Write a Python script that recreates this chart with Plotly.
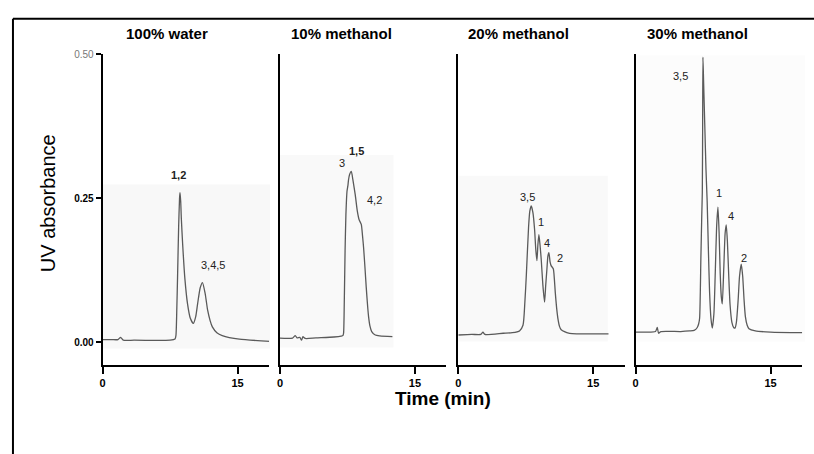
import plotly.graph_objects as go

# ---- Chromatogram data: retention time (min) vs UV absorbance (AU) ----
time_water = [0, 1.0, 1.7, 2.0, 2.3, 3.5, 6.0, 7.5, 8.05, 8.15, 8.25, 8.33, 8.45, 8.55, 8.6,
              8.68, 8.75, 8.9, 9.15, 9.44, 9.75, 10.08, 10.35, 10.56, 10.85, 11.1, 11.4,
              11.67, 11.95, 12.2, 12.7, 13.3, 15.2, 18.7]
abs_water = [0.005, 0.005, 0.005, 0.009, 0.004, 0.004, 0.0035, 0.004, 0.006, 0.012, 0.06, 0.113,
             0.20, 0.25, 0.26, 0.245, 0.215, 0.170, 0.11, 0.067, 0.042, 0.033, 0.045, 0.067,
             0.095, 0.104, 0.085, 0.0565, 0.038, 0.027, 0.017, 0.012, 0.0057, 0.002]

time_meoh10 = [0, 1.4, 1.7, 1.9, 2.2, 2.4, 2.55, 2.8, 4.0, 6.0, 6.8, 7.0, 7.07, 7.15, 7.24,
               7.33, 7.45, 7.56, 7.62, 7.75, 7.93, 8.1, 8.37, 8.6, 8.8, 9.04, 9.18, 9.3, 9.45,
               9.59, 9.72, 9.85, 10.0, 10.2, 10.6, 11.1, 12.5]
abs_meoh10 = [0.0074, 0.0076, 0.012, 0.008, 0.009, 0.004, 0.010, 0.007, 0.008, 0.0095, 0.011,
              0.012, 0.016, 0.07, 0.16, 0.221, 0.262, 0.273, 0.282, 0.292, 0.297, 0.283, 0.256,
              0.228, 0.213, 0.205, 0.185, 0.164, 0.13, 0.096, 0.068, 0.045, 0.029, 0.019,
              0.013, 0.0115, 0.010]

time_meoh20 = [0, 1.5, 2.5, 2.74, 2.95, 5.0, 6.0, 6.8, 7.19, 7.4, 7.56, 7.81, 7.95, 8.11, 8.3,
               8.48, 8.62, 8.74, 8.85, 8.96, 9.08, 9.22, 9.4, 9.59, 9.72, 9.85, 9.96, 10.07,
               10.2, 10.33, 10.56, 10.68, 10.78, 10.93, 11.07, 11.25, 11.44, 12.37, 16.7]
abs_meoh20 = [0.013, 0.014, 0.014, 0.018, 0.014, 0.016, 0.017, 0.020, 0.030, 0.07, 0.116, 0.20,
              0.228, 0.237, 0.225, 0.196, 0.16, 0.142, 0.17, 0.187, 0.17, 0.144, 0.10, 0.070,
              0.10, 0.127, 0.15, 0.156, 0.14, 0.133, 0.128, 0.11, 0.087, 0.06, 0.042, 0.028,
              0.022, 0.016, 0.015]

time_meoh30 = [0, 1.0, 2.2, 2.4, 2.55, 2.8, 5.0, 6.0, 6.5, 6.85, 7.0, 7.11, 7.25, 7.35, 7.41,
               7.45, 7.48, 7.55, 7.68, 7.82, 7.95, 8.08, 8.22, 8.37, 8.52, 8.7, 8.85, 9.0,
               9.15, 9.28, 9.4, 9.52, 9.63, 9.8, 9.95, 10.07, 10.2, 10.35, 10.5, 10.7, 10.9,
               11.04, 11.2, 11.4, 11.55, 11.74, 11.9, 12.05, 12.2, 12.4, 12.6, 13.3, 15.0, 18.9]
abs_meoh30 = [0.018, 0.018, 0.019, 0.026, 0.016, 0.019, 0.019, 0.020, 0.021, 0.026, 0.032,
              0.042, 0.145, 0.22, 0.26, 0.38, 0.495, 0.455, 0.38, 0.30, 0.245, 0.165, 0.087,
              0.042, 0.025, 0.05, 0.12, 0.20, 0.235, 0.19, 0.12, 0.08, 0.067, 0.13, 0.19,
              0.204, 0.175, 0.115, 0.065, 0.035, 0.026, 0.025, 0.035, 0.075, 0.115, 0.136,
              0.115, 0.075, 0.045, 0.030, 0.024, 0.020, 0.018, 0.017]

panel_titles = ["100% water", "10% methanol", "20% methanol", "30% methanol"]

# Peak identification labels: retention time, absorbance, compound numbers
peak_t_water = [8.44, 12.3]
peak_a_water = [0.29, 0.135]
peak_txt_water = ["<b>1,2</b>", "3,4,5"]

peak_t_meoh10 = [8.48, 6.89, 10.52]
peak_a_meoh10 = [0.333, 0.311, 0.248]
peak_txt_meoh10 = ["<b>1,5</b>", "3", "4,2"]

peak_t_meoh20 = [7.67, 9.15, 9.89, 11.26]
peak_a_meoh20 = [0.252, 0.209, 0.173, 0.146]
peak_txt_meoh20 = ["3,5", "1", "4", "2"]

peak_t_meoh30 = [5.0, 9.3, 10.56, 12.0]
peak_a_meoh30 = [0.462, 0.26, 0.22, 0.146]
peak_txt_meoh30 = ["3,5", "1", "4", "2"]

y_tick_vals = [0.0, 0.25, 0.5]
y_tick_text = ["<b>0.00</b>", "<b>0.25</b>", "<span style='color:#777'>0.50</span>"]
x_tick_vals = [0, 15]
x_tick_text = ["<b>0</b>", "<b>15</b>"]

# ---- Layout geometry (pixels) ----
W, H = 814, 454
FONT = "Arial, Liberation Sans, sans-serif"
panel_left_px = [100, 278, 457, 635]
panel_width_px = 167
plot_top_px, plot_bottom_px = 49, 364
x_range = [0, 18.5]
y_range = [-0.0394, 0.5]
title_center_px = [165, 340, 517, 697]
scan_boxes = [  # faint backgrounds behind each trace (x0, x1, y0, y1 in px)
    (100, 268, 181, 347, "#f8f8f8"),
    (278, 392, 151, 346, "#f9f9f9"),
    (457, 607, 172, 340, "#f9f9f9"),
    (635, 805, 50, 340, "#fcfcfc"),
]

series = [
    (time_water, abs_water, peak_t_water, peak_a_water, peak_txt_water),
    (time_meoh10, abs_meoh10, peak_t_meoh10, peak_a_meoh10, peak_txt_meoh10),
    (time_meoh20, abs_meoh20, peak_t_meoh20, peak_a_meoh20, peak_txt_meoh20),
    (time_meoh30, abs_meoh30, peak_t_meoh30, peak_a_meoh30, peak_txt_meoh30),
]


def px_x(p):
    return p / W


def px_y(p):
    return 1 - p / H


fig = go.Figure()
annotations = []
shapes = []

for i, (tt, aa, pt, pa, ptxt) in enumerate(series):
    n = "" if i == 0 else str(i + 1)
    xa, ya = "x" + n, "y" + n
    fig.add_trace(go.Scatter(
        x=tt, y=aa, xaxis=xa, yaxis=ya, mode="lines",
        line=dict(color="#5a5a5a", width=1.3, shape="spline", smoothing=0.6),
        hoverinfo="skip", showlegend=False,
    ))
    left = panel_left_px[i]
    fig.layout["xaxis" + n] = dict(
        domain=[px_x(left), px_x(left + panel_width_px)],
        range=x_range, anchor=ya, showgrid=False, zeroline=False,
        showline=True, linecolor="black", linewidth=2,
        ticks="outside", ticklen=7, tickwidth=2, tickcolor="black",
        tickvals=x_tick_vals, ticktext=x_tick_text,
        tickfont=dict(family=FONT, size=11, color="black"),
    )
    yax = dict(
        domain=[px_y(plot_bottom_px), px_y(plot_top_px)],
        range=y_range, anchor=xa, showgrid=False, zeroline=False,
        showline=True, linecolor="black", linewidth=2,
    )
    if i == 0:
        yax.update(ticks="outside", ticklen=5, tickwidth=2, tickcolor="black",
                   tickvals=y_tick_vals, ticktext=y_tick_text,
                   tickfont=dict(family=FONT, size=10, color="black"))
    else:
        yax.update(ticks="", showticklabels=False)
    fig.layout["yaxis" + n] = yax

    # panel title
    annotations.append(dict(
        x=px_x(title_center_px[i]), y=px_y(28), xref="paper", yref="paper",
        text="<b>" + panel_titles[i] + "</b>", showarrow=False,
        font=dict(family=FONT, size=15, color="black"),
        xanchor="center", yanchor="middle",
    ))
    # peak labels
    for t, a, s in zip(pt, pa, ptxt):
        annotations.append(dict(
            x=t, y=a, xref=xa, yref=ya, text=s, showarrow=False,
            font=dict(family=FONT, size=11, color="#222"),
            xanchor="center", yanchor="middle",
        ))

# faint scanned-paper backgrounds
for x0, x1, y0, y1, col in scan_boxes:
    shapes.append(dict(type="rect", xref="paper", yref="paper",
                       x0=px_x(x0), x1=px_x(x1), y0=px_y(y1), y1=px_y(y0),
                       fillcolor=col, line=dict(width=0), layer="below"))

# outer frame (left and top edges)
shapes.append(dict(type="line", xref="paper", yref="paper",
                   x0=px_x(10), x1=px_x(10), y0=px_y(13), y1=-0.05,
                   line=dict(color="black", width=2)))
shapes.append(dict(type="line", xref="paper", yref="paper",
                   x0=px_x(10), x1=1.05, y0=px_y(13), y1=px_y(13),
                   line=dict(color="black", width=2)))

# axis titles
annotations.append(dict(
    x=px_x(46), y=px_y(200), xref="paper", yref="paper",
    text="UV absorbance", textangle=-90, showarrow=False,
    font=dict(family=FONT, size=20, color="black"),
    xanchor="center", yanchor="middle",
))
annotations.append(dict(
    x=px_x(442), y=px_y(398), xref="paper", yref="paper",
    text="<b>Time (min)</b>", showarrow=False,
    font=dict(family=FONT, size=19, color="black"),
    xanchor="center", yanchor="middle",
))

fig.update_layout(
    width=W, height=H, margin=dict(l=0, r=0, t=0, b=0),
    paper_bgcolor="white", plot_bgcolor="rgba(0,0,0,0)",
    annotations=annotations, shapes=shapes,
)

fig.write_html("out.html")
